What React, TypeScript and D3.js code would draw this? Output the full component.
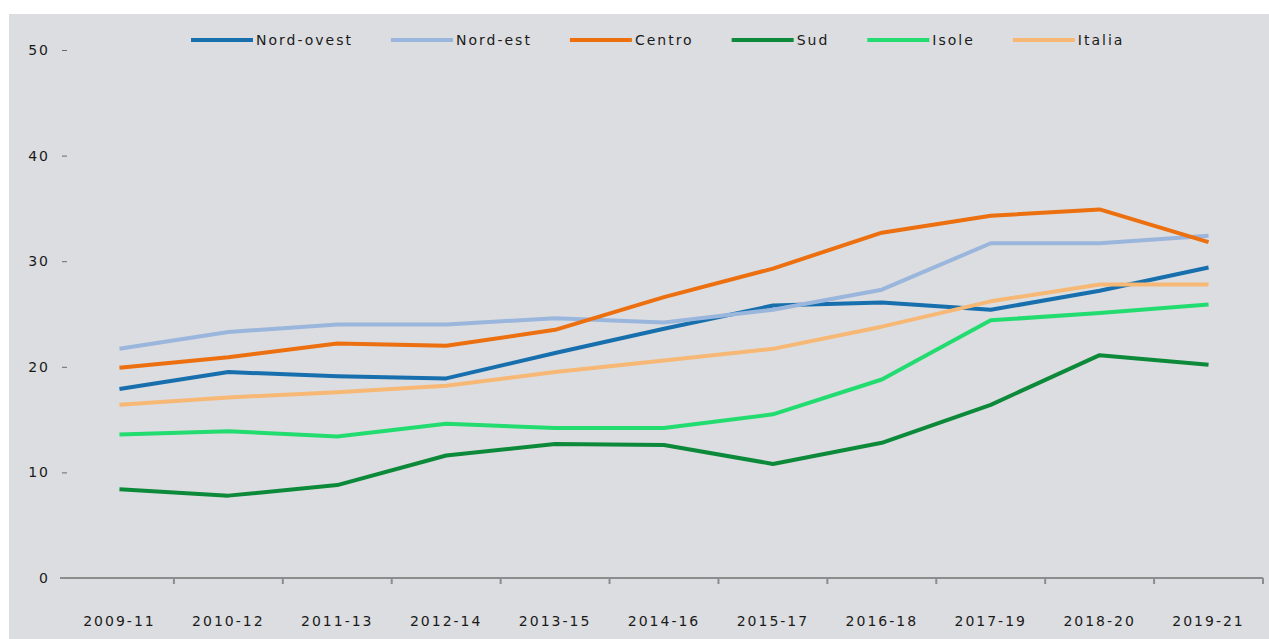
import React, { useEffect, useRef } from 'react';
import * as d3 from 'd3';

const periods = ['2009-11', '2010-12', '2011-13', '2012-14', '2013-15', '2014-16', '2015-17', '2016-18', '2017-19', '2018-20', '2019-21'];

const nordOvest = [17.9, 19.5, 19.1, 18.9, 21.3, 23.6, 25.8, 26.1, 25.4, 27.2, 29.4];
const nordEst = [21.7, 23.3, 24.0, 24.0, 24.6, 24.2, 25.4, 27.3, 31.7, 31.7, 32.4];
const centro = [19.9, 20.9, 22.2, 22.0, 23.5, 26.6, 29.3, 32.7, 34.3, 34.9, 31.8];
const sud = [8.4, 7.8, 8.8, 11.6, 12.7, 12.6, 10.8, 12.8, 16.4, 21.1, 20.2];
const isole = [13.6, 13.9, 13.4, 14.6, 14.2, 14.2, 15.5, 18.8, 24.4, 25.1, 25.9];
const italia = [16.4, 17.1, 17.6, 18.2, 19.5, 20.6, 21.7, 23.8, 26.2, 27.8, 27.8];

const yTicks = [0, 10, 20, 30, 40, 50];

const series = [
  { name: 'Nord-ovest', values: nordOvest, color: '#176fad' },
  { name: 'Nord-est', values: nordEst, color: '#9ab6dc' },
  { name: 'Centro', values: centro, color: '#ec6f10' },
  { name: 'Sud', values: sud, color: '#0c8a3a' },
  { name: 'Isole', values: isole, color: '#22dc70' },
  { name: 'Italia', values: italia, color: '#f6b874' },
];

const W = 1269;
const H = 639;
const FONT = '"DejaVu Sans", sans-serif';

const App = () => {
  const svgRef = useRef<SVGSVGElement>(null);

  useEffect(() => {
    const svg = d3.select(svgRef.current);
    svg.selectAll('*').remove();

    svg.append('rect').attr('x', 0).attr('y', 0).attr('width', W).attr('height', H).attr('fill', '#ffffff');
    svg.append('rect').attr('x', 9).attr('y', 14).attr('width', W - 9).attr('height', H - 14).attr('fill', '#dcdde0');

    const x = d3.scaleBand().domain(periods).range([65, 1263]);
    const y = d3.scaleLinear().domain([0, 50]).range([578, 50]);

    // y axis: labels + small dash ticks, no domain line
    const yAxis = svg.append('g')
      .attr('transform', 'translate(67,0)')
      .call(d3.axisLeft(y).tickValues(yTicks).tickSize(5).tickPadding(12));
    yAxis.select('.domain').remove();
    yAxis.selectAll('.tick line').attr('stroke', '#6a6a6a').attr('stroke-width', 1);
    yAxis.selectAll('.tick text')
      .attr('fill', '#1a1a1a')
      .style('font-family', FONT)
      .style('font-size', '14px')
      .style('letter-spacing', '2px');

    // x axis line with boundary ticks
    const gx = svg.append('g');
    gx.append('line')
      .attr('x1', 60).attr('x2', x.range()[1])
      .attr('y1', y(0)).attr('y2', y(0))
      .attr('stroke', '#8c8c8c').attr('stroke-width', 2);
    gx.selectAll('.xt')
      .data(periods)
      .enter().append('line')
      .attr('x1', d => (x(d) as number) + x.bandwidth())
      .attr('x2', d => (x(d) as number) + x.bandwidth())
      .attr('y1', y(0)).attr('y2', y(0) + 6)
      .attr('stroke', '#8c8c8c').attr('stroke-width', 2);
    gx.selectAll('.xl')
      .data(periods)
      .enter().append('text')
      .attr('x', d => (x(d) as number) + x.bandwidth() / 2)
      .attr('y', 626)
      .attr('text-anchor', 'middle')
      .attr('fill', '#1a1a1a')
      .style('font-family', FONT)
      .style('font-size', '14px')
      .style('letter-spacing', '2px')
      .text(d => d);

    // lines
    const line = d3.line<number>()
      .x((_, i) => (x(periods[i]) as number) + x.bandwidth() / 2)
      .y(d => y(d));

    svg.append('g').selectAll('path')
      .data(series)
      .enter().append('path')
      .attr('d', d => line(d.values))
      .attr('fill', 'none')
      .attr('stroke', d => d.color)
      .attr('stroke-width', 4)
      .attr('stroke-linejoin', 'round');

    // legend
    const legend = svg.append('g');
    let lx = 191;
    series.forEach(s => {
      legend.append('line')
        .attr('x1', lx).attr('x2', lx + 62)
        .attr('y1', 40).attr('y2', 40)
        .attr('stroke', s.color).attr('stroke-width', 4);
      const t = legend.append('text')
        .attr('x', lx + 65)
        .attr('y', 45)
        .attr('fill', '#1a1a1a')
        .style('font-family', FONT)
        .style('font-size', '14px')
        .style('letter-spacing', '2px')
        .text(s.name);
      const tw = (t.node() as SVGTextElement).getComputedTextLength();
      lx += 65 + tw + 38;
    });
  }, []);

  return (
    <svg ref={svgRef} width={W} height={H} style={{ position: 'absolute', left: 0, top: 0, display: 'block' }} />
  );
};

export default App;
